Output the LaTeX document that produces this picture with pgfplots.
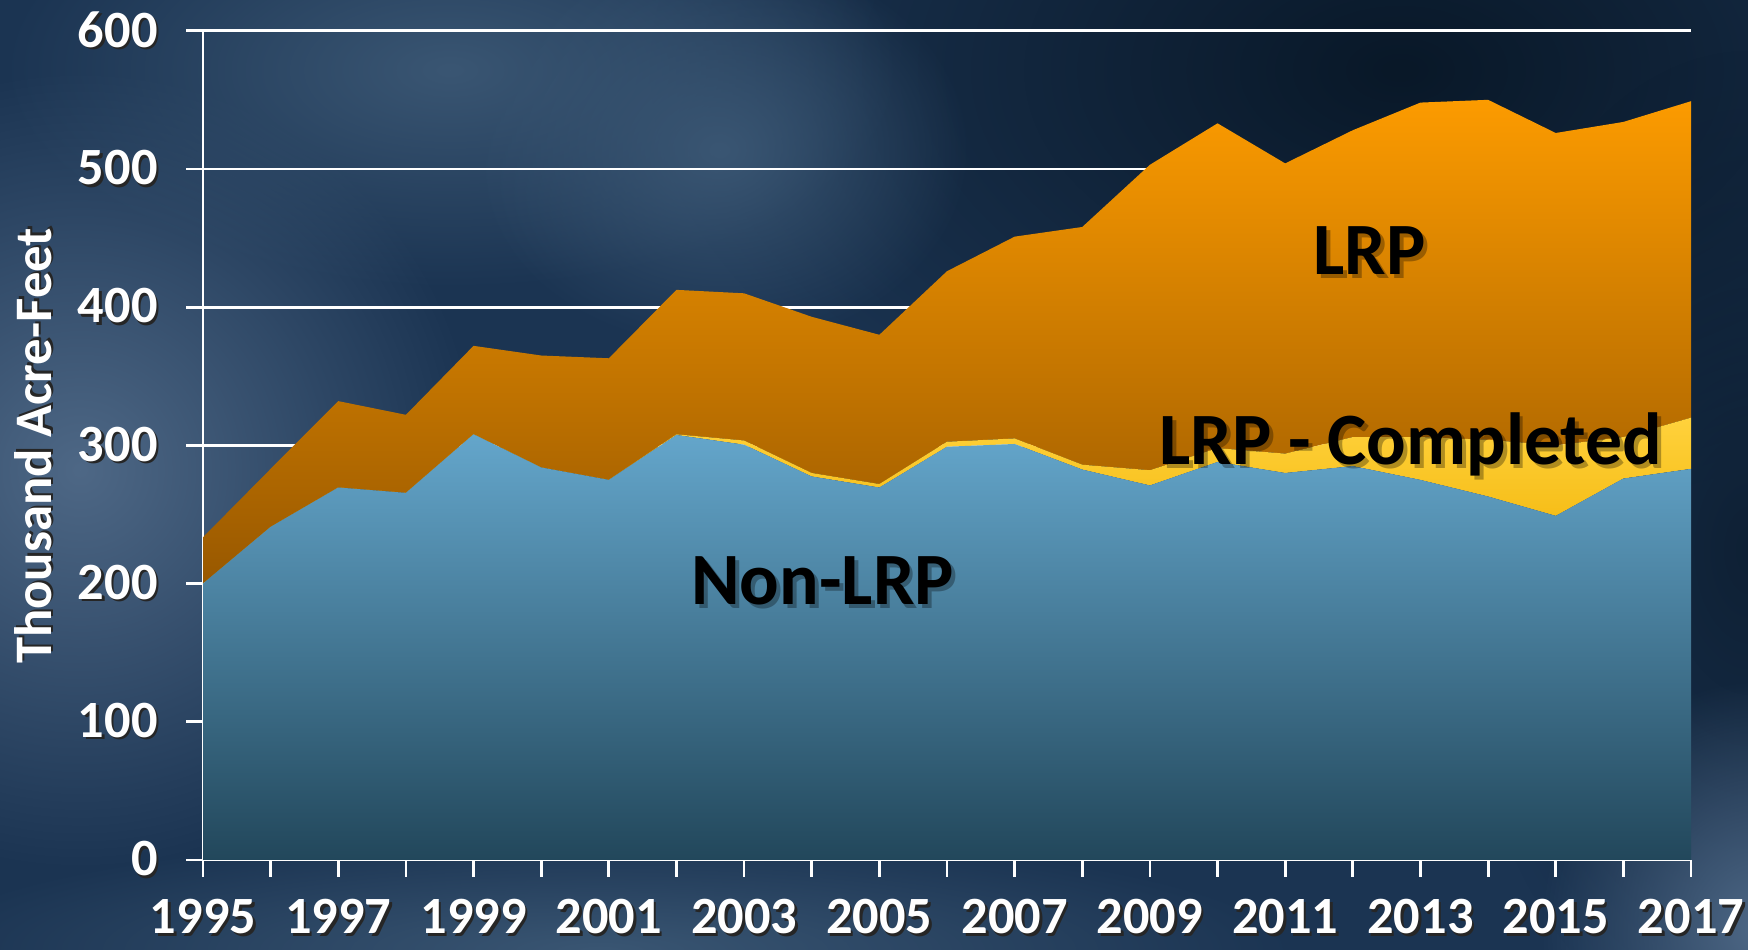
\documentclass[border=0pt]{standalone}
\usepackage{pgfplots}
\pgfplotsset{compat=1.18}
\usepackage{pgfplotstable}
\usepackage{fontspec}
\setmainfont{Carlito}
\usetikzlibrary{fadings}

\definecolor{bgbase}{HTML}{1B3452}
\definecolor{bglight}{HTML}{4E6886}
\definecolor{bgmid}{HTML}{3A5673}
\definecolor{bgdark}{HTML}{091828}
\definecolor{bluetop}{HTML}{64A6CB}
\definecolor{bluemid}{HTML}{3F86AD}
\definecolor{bluebot}{HTML}{22475B}
\definecolor{orgtop}{HTML}{FC9B00}
\definecolor{orgbot}{HTML}{985800}
\definecolor{yeltop}{HTML}{FFD23C}
\definecolor{yelbot}{HTML}{F0B000}

\tikzfading[name=radfade, inner color=transparent!0, outer color=transparent!100]

\newcommand{\sh}[1]{\makebox[0pt][l]{\hspace{0.7pt}\raisebox{-0.7pt}{\color{black!85}#1}}#1}

\pgfplotstableread{
year nonlrp comp lrp
1995 200 0 33.5
1996 241 0 42
1997 269.5 0 62.5
1998 265.6 0 56.5
1999 308 0 64
2000 284 0 81
2001 275 0 88
2002 307.5 0.5 104.5
2003 300.5 3 106.5
2004 277.5 2.5 113
2005 269.5 2.5 108
2006 299 3.6 123.4
2007 301 4 146
2008 282.5 3.5 172
2009 271 11 221
2010 288 10 235
2011 280 14 210
2012 285 21 222
2013 275 31 242
2014 263 41 246
2015 249 51 226
2016 276 30 228
2017 283 37 229
}\data

\begin{document}
\begin{tikzpicture}
\begin{scope}
\clip (0,0) rectangle (174.8mm,95mm);
\fill[bgbase] (0,0) rectangle (174.8mm,95mm);
\fill[bgdark, path fading=radfade] (140mm,88mm) ellipse (75mm and 45mm);
\fill[bgdark, path fading=radfade, opacity=0.7] (175mm,40mm) ellipse (30mm and 50mm);
\fill[bglight, path fading=radfade] (8mm,48mm) ellipse (40mm and 40mm);
\fill[bgmid, path fading=radfade] (45mm,88mm) ellipse (45mm and 22mm);
\fill[bgmid, path fading=radfade] (72mm,80mm) ellipse (25mm and 20mm);
\fill[bglight, path fading=radfade] (176mm,2mm) ellipse (22mm and 25mm);
\fill[bgmid, path fading=radfade] (60mm,0mm) ellipse (70mm and 12mm);
\end{scope}

\node[rotate=90, text=white, font=\bfseries\fontsize{15}{18}\selectfont] at (3.4mm,50.4mm) {\sh{Thousand Acre-Feet}};

\begin{axis}[
  at={(20.3mm,9.0mm)}, anchor=south west,
  scale only axis, width=148.8mm, height=82.93mm,
  xmin=1995, xmax=2017, ymin=0, ymax=600,
  axis x line*=bottom, axis y line*=left,
  axis line style={white, line width=0.8pt},
  ytick={0,100,...,600},
  ymajorgrids, grid style={white, line width=0.8pt},
  xtick={1995,1997,...,2017},
  minor xtick={1996,1998,...,2016},
  tick align=outside,
  major tick length=1.7mm, minor tick length=1.7mm,
  tick style={white, line width=0.8pt},
  /pgf/number format/assume math mode=true,
  ticklabel style={font=\bfseries\fontsize{14.9}{17}\selectfont, text=white},
  xticklabel={\sh{\pgfmathprintnumber[1000 sep={}]{\tick}}},
  yticklabel={\sh{\pgfmathprintnumber{\tick}}},
  xticklabel style={yshift=-1.0mm},
  yticklabel style={xshift=-1.6mm},
  stack plots=y,
  clip=false,
]
\addplot[draw=none, top color=bluetop, middle color=bluemid, bottom color=bluebot] table[x=year,y=nonlrp]{\data} \closedcycle;
\addplot[draw=none, top color=yeltop, bottom color=yelbot] table[x=year,y=comp]{\data} \closedcycle;
\addplot[draw=none, top color=orgtop, bottom color=orgbot] table[x=year,y=lrp]{\data} \closedcycle;
\coordinate (L1) at (axis cs:2012.25,441);
\coordinate (L2) at (axis cs:2012.86,300.8);
\coordinate (L3) at (axis cs:2004.16,201.7);
\end{axis}
\foreach \p/\t in {L1/LRP, L2/LRP - Completed, L3/Non-LRP}{
  \node[text=black, opacity=0.3, font=\bfseries\fontsize{21}{24}\selectfont] at ([shift={(1.1pt,-1.1pt)}]\p) {\t};
  \node[text=black, font=\bfseries\fontsize{21}{24}\selectfont] at (\p) {\t};
}
\pgfresetboundingbox
\useasboundingbox (0,0) rectangle (174.8mm,95mm);
\end{tikzpicture}
\end{document}
